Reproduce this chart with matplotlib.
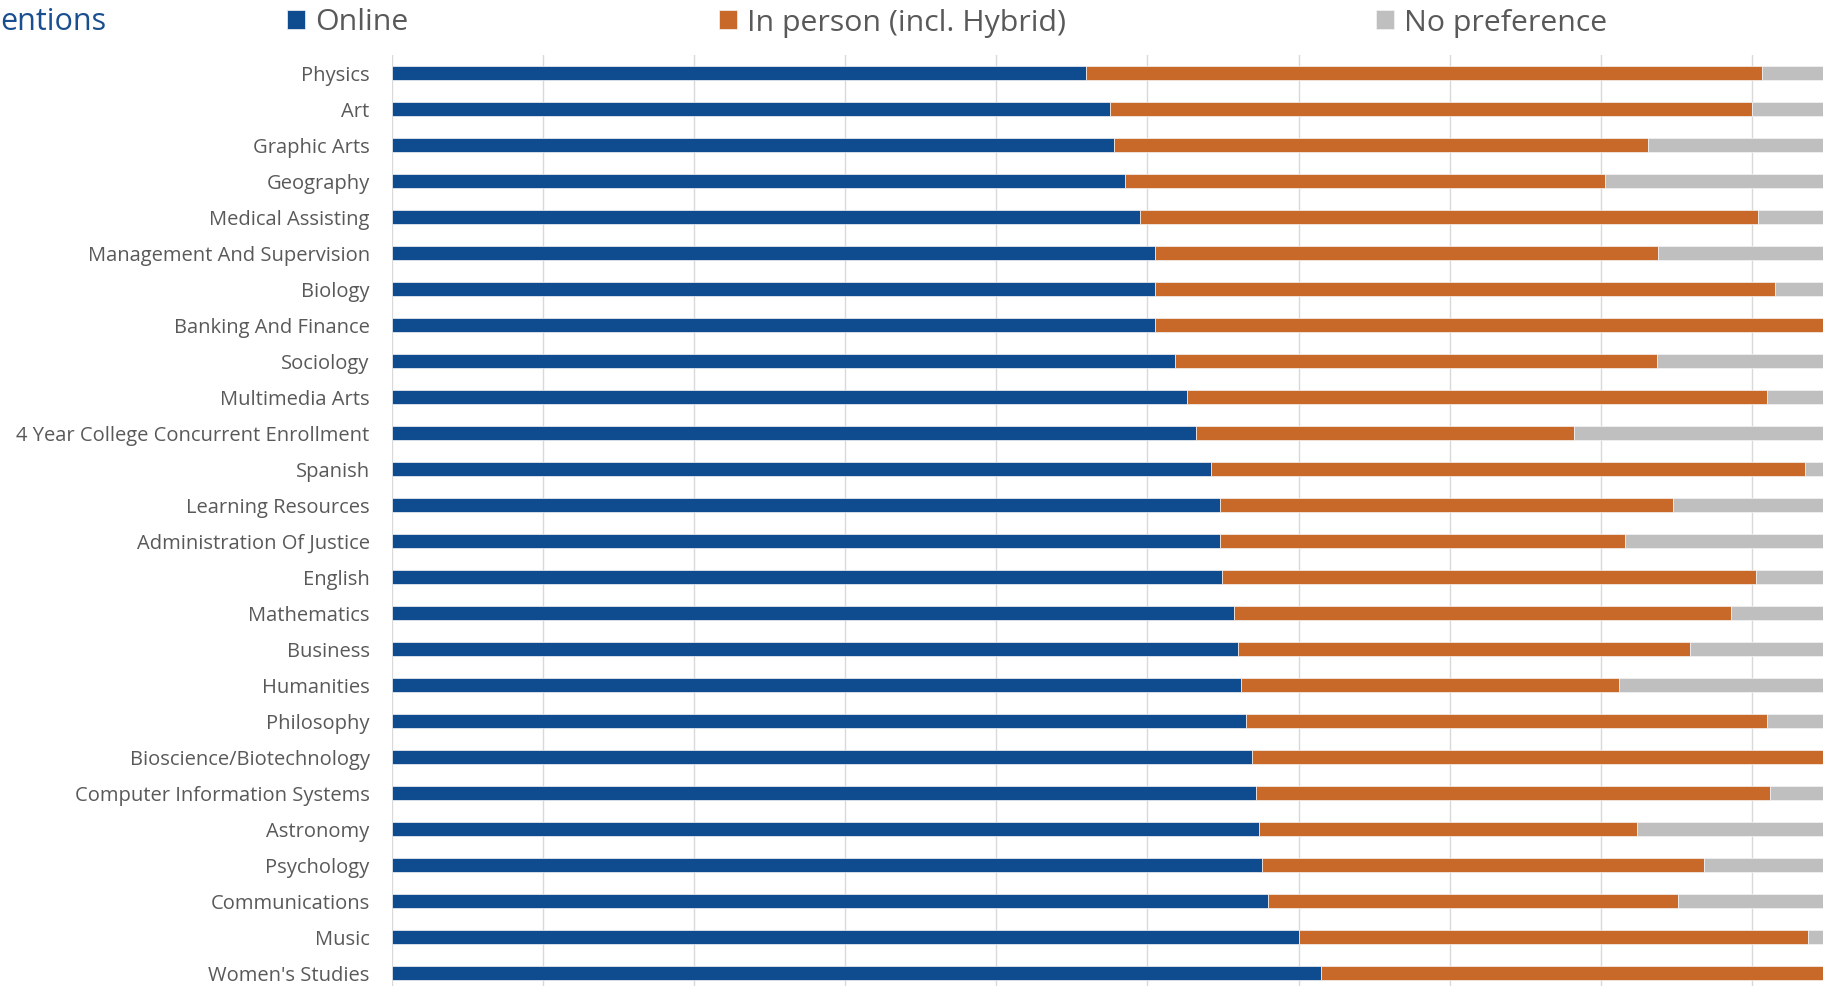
import matplotlib.pyplot as plt
import numpy as np

# share of respondents (%) by subject, ordered top to bottom
subjects = [
    "Physics", "Art", "Graphic Arts", "Geography", "Medical Assisting",
    "Management And Supervision", "Biology", "Banking And Finance",
    "Sociology", "Multimedia Arts", "4 Year College Concurrent Enrollment",
    "Spanish", "Learning Resources", "Administration Of Justice", "English",
    "Mathematics", "Business", "Humanities", "Philosophy",
    "Bioscience/Biotechnology", "Computer Information Systems", "Astronomy",
    "Psychology", "Communications", "Music", "Women's Studies",
]
online = [45.9, 47.5, 47.8, 48.5, 49.5, 50.5, 50.5, 50.5, 51.8, 52.6, 53.2,
          54.2, 54.8, 54.8, 54.9, 55.7, 56.0, 56.2, 56.5, 56.9, 57.2, 57.4,
          57.6, 58.0, 60.0, 61.5]
in_person = [44.8, 42.5, 35.3, 31.8, 40.9, 33.3, 41.0, 49.5, 31.9, 38.4, 25.0,
             39.3, 30.0, 26.8, 35.4, 32.9, 29.9, 25.0, 34.5, 43.1, 34.0, 25.0,
             29.2, 27.1, 33.7, 38.5]
no_pref = [100 - a - b for a, b in zip(online, in_person)]

series = ["Online", "In person (incl. Hybrid)", "No preference"]
colors = ["#0F4C8F", "#C8692A", "#BFBFBF"]

plt.rcParams['font.family'] = ['Open Sans', 'DejaVu Sans']

fig = plt.figure(figsize=(18.23, 9.86), dpi=100)
ax = fig.add_axes([0.215, -0.0051, 0.8289, 0.9493])

y = np.arange(len(subjects))
left = np.zeros(len(subjects))
handles = []
for name, vals, col in zip(series, [online, in_person, no_pref], colors):
    vals = np.array(vals)
    h = ax.barh(y, vals, left=left, height=0.4, color=col,
                edgecolor='#f4f4f4', linewidth=0.5, label=name)
    handles.append(h)
    left += vals

ax.set_xlim(0, 100)
ax.set_ylim(len(subjects) - 0.5, -0.5)
ax.set_xticks(np.arange(0, 101, 10))
ax.set_yticks(y)
ax.set_yticklabels(subjects, fontsize=14.5, color='#595959')
ax.tick_params(axis='y', length=0, pad=16)
ax.tick_params(axis='x', length=0, labelbottom=False)
ax.grid(axis='x', color='#d9d9d9', linewidth=1.0)
ax.set_axisbelow(True)
for s in ax.spines.values():
    s.set_visible(False)

# chart title (left part runs off the canvas)
fig.text(0.0, 1 - 30 / 986, "entions", fontsize=22, color='#1A4F8F',
         ha='left', va='baseline')

fig.legend(handles=handles, labels=series, loc='center left',
           bbox_to_anchor=(287 / 1823, 1 - 23 / 986), ncol=3, frameon=False,
           fontsize=21.8, labelcolor='#595959', handlelength=0.6,
           handleheight=0.6, handletextpad=0.33, columnspacing=10.25,
           borderpad=0, borderaxespad=0)

fig.savefig("out.png", dpi=100)
